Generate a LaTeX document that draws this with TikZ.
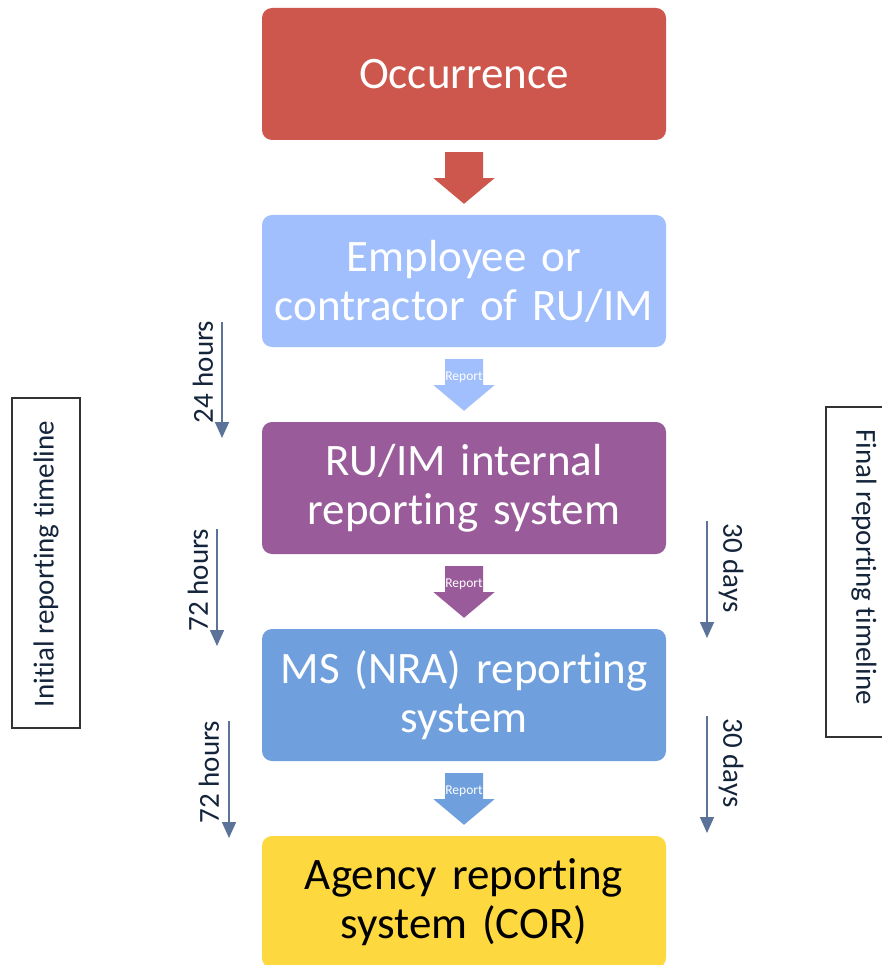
\documentclass[tikz,border=0pt]{standalone}
\usepackage{fontspec}
\setmainfont{Carlito}[RawFeature={-liga;-clig;-calt;-dlig}]
\usetikzlibrary{calc,arrows.meta}

\definecolor{cRed}{HTML}{CD574C}
\definecolor{cLight}{HTML}{A0BFFC}
\definecolor{cPurple}{HTML}{995B9A}
\definecolor{cBlue}{HTML}{6FA0DD}
\definecolor{cYellow}{HTML}{FED83F}
\definecolor{cLine}{HTML}{5B7399}
\definecolor{cInk}{HTML}{14243A}

\tikzset{
  stage/.style={rounded corners=10pt, minimum width=404pt, minimum height=132pt,
    inner sep=0pt, align=center, text width=400pt,
    font=\fontsize{45pt}{49pt}\selectfont},
  lbl/.style={font=\fontsize{13.5pt}{15pt}\selectfont, text=white, inner sep=0pt},
  timeflow/.style={draw=cLine, line width=1.6pt, -{Triangle[width=14pt,length=16pt]}},
  timetext/.style={text=cInk, font=\fontsize{29pt}{32pt}\selectfont, inner sep=0pt},
  framebox/.style={draw=black!80, line width=1.1pt},
}

% block arrow from stage #1 down to stage #2 in colour #3
\newcommand{\blockarrow}[3]{%
  \fill[#3] ($(#1.south)+(-19,12)$) -- ++(38,0) -- ++(0,26) -- ++(11.5,0)
    -- ($(#2.north)+(0,-11)$) -- ($(#1.south)+(-30.5,38)$) -- ++(11.5,0) -- cycle;%
}

\begin{document}
\begin{tikzpicture}[x=1pt,y=-1pt]
  \clip (0,0) rectangle (882,965);
  \fill[white] (0,0) rectangle (882,965);

  % main chain of stages
  \node[stage, fill=cRed, text=white]    (occ) at (464,74)  {Occurrence};
  \node[stage, fill=cLight, text=white]  (emp) at (464,281) {Employee or\\contractor of RU/IM};
  \node[stage, fill=cPurple, text=white] (int) at (464,488) {RU/IM internal\\reporting system};
  \node[stage, fill=cBlue, text=white]   (nra) at (464,695) {MS (NRA) reporting\\system};
  \node[stage, fill=cYellow, text=black] (cor) at (464,902) {Agency reporting\\system (COR)};

  % block arrows
  \blockarrow{occ}{emp}{cRed}
  \blockarrow{emp}{int}{cLight}
  \blockarrow{int}{nra}{cPurple}
  \blockarrow{nra}{cor}{cBlue}

  \node[lbl] (rep1) at ($(emp.south)+(0,30)$) {Report};
  \node[lbl] (rep2) at ($(int.south)+(0,30)$) {Report};
  \node[lbl] (rep3) at ($(nra.south)+(0,30)$) {Report};

  % initial reporting timeline
  \coordinate (a1s) at (222,322); \coordinate (a1e) at (222,438);
  \coordinate (a2s) at (217,529); \coordinate (a2e) at (217,646);
  \coordinate (a3s) at (229,721); \coordinate (a3e) at (229,838);
  \draw[timeflow] (a1s) -- (a1e);
  \draw[timeflow] (a2s) -- (a2e);
  \draw[timeflow] (a3s) -- (a3e);
  \node[timetext, rotate=90] (t1) at (203,372) {24 hours};
  \node[timetext, rotate=90] (t2) at (198,580) {72 hours};
  \node[timetext, rotate=90] (t3) at (209,772) {72 hours};

  \draw[framebox] (12,398) rectangle (80,728);
  \node[timetext, rotate=90] (init) at (46,564) {Initial reporting timeline};

  % final reporting timeline
  \coordinate (b1s) at (707,521); \coordinate (b1e) at (707,638);
  \coordinate (b2s) at (707,716); \coordinate (b2e) at (707,833);
  \draw[timeflow] (b1s) -- (b1e);
  \draw[timeflow] (b2s) -- (b2e);
  \node[timetext, rotate=-90] (d1) at (731,568) {30 days};
  \node[timetext, rotate=-90] (d2) at (731,763) {30 days};

  \draw[framebox] (826,407) rectangle (900,737);
  \node[timetext, rotate=-90] (fin) at (864,567) {Final reporting timeline};
\end{tikzpicture}
\end{document}
